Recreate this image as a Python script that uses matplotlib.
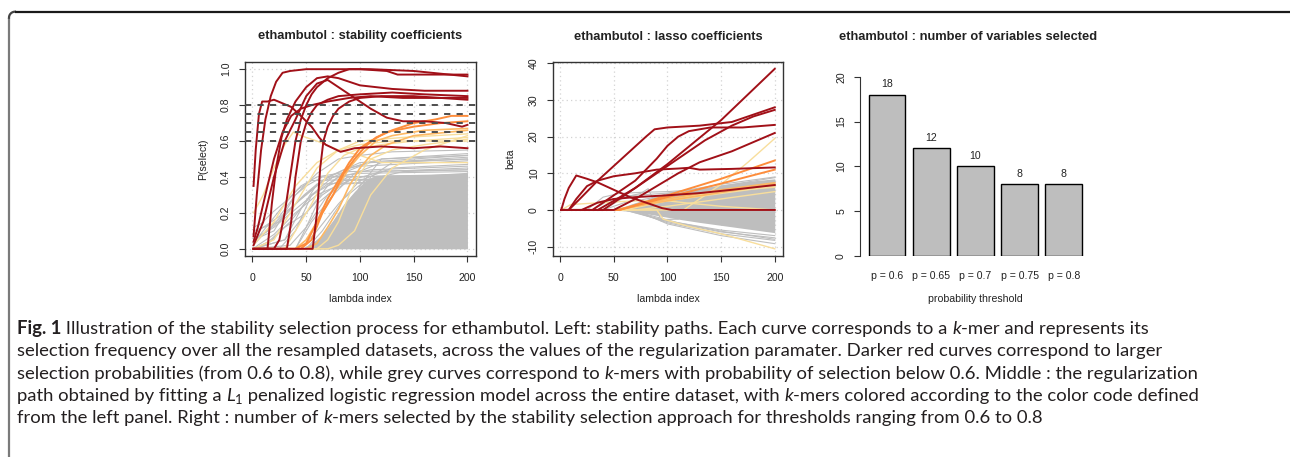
import numpy as np
import matplotlib
matplotlib.use("Agg")
import matplotlib.pyplot as plt

# ---------------- DATA ----------------
# Panel 1: stability paths (keypoints: lambda index, P(select))
stab_red_x = [
    [1, 3, 6, 9, 14, 20, 28, 36, 45, 55, 62, 68, 75, 82, 95, 120, 150, 175, 200],
    [1, 4, 8, 12, 17, 22, 28, 35, 50, 80, 100, 125, 135, 200],
    [1, 10, 20, 30, 40, 50, 60, 70, 80, 90, 100, 110, 125, 140, 160, 180, 195, 200],
    [1, 32, 36, 40, 45, 50, 55, 60, 70, 80, 100, 130, 160, 200],
    [1, 14, 18, 22, 27, 32, 40, 50, 60, 70, 80, 100, 130, 160, 200],
    [1, 5, 12, 20, 28, 36, 45, 55, 70, 90, 110, 140, 170, 200],
    [1, 20, 25, 30, 35, 40, 45, 50, 55, 60, 70, 80, 90, 100, 110, 150, 200],
    [1, 56, 60, 63, 66, 70, 75, 80, 90, 100, 120, 150, 200],
]
stab_red_y = [
    [0.35, 0.55, 0.75, 0.82, 0.82, 0.83, 0.81, 0.79, 0.74, 0.68, 0.62, 0.58, 0.56, 0.54, 0.56, 0.57, 0.56, 0.57, 0.56],
    [0.07, 0.30, 0.55, 0.72, 0.85, 0.93, 0.98, 0.99, 1.00, 1.00, 1.00, 0.99, 0.97, 0.97],
    [0.02, 0.15, 0.40, 0.60, 0.72, 0.85, 0.92, 0.94, 0.90, 0.86, 0.82, 0.78, 0.73, 0.71, 0.71, 0.70, 0.68, 0.69],
    [0.00, 0.00, 0.15, 0.40, 0.60, 0.70, 0.76, 0.80, 0.83, 0.85, 0.86, 0.87, 0.86, 0.85],
    [0.00, 0.00, 0.25, 0.45, 0.62, 0.72, 0.82, 0.90, 0.95, 0.96, 0.95, 0.91, 0.89, 0.88, 0.88],
    [0.04, 0.12, 0.30, 0.50, 0.65, 0.74, 0.78, 0.80, 0.82, 0.84, 0.85, 0.84, 0.84, 0.84],
    [0.00, 0.00, 0.05, 0.20, 0.40, 0.60, 0.72, 0.80, 0.86, 0.90, 0.95, 0.98, 1.00, 1.00, 1.00, 0.99, 0.96],
    [0.00, 0.00, 0.20, 0.45, 0.60, 0.68, 0.74, 0.78, 0.82, 0.84, 0.85, 0.85, 0.83],
]
stab_orange_x = [
    [1, 45, 55, 65, 75, 85, 95, 105, 115, 130, 150, 170, 185, 200],
    [1, 40, 50, 60, 70, 80, 90, 100, 110, 125, 150, 175, 200],
]
stab_orange_y = [
    [0.00, 0.00, 0.05, 0.20, 0.30, 0.42, 0.50, 0.57, 0.62, 0.66, 0.70, 0.72, 0.74, 0.74],
    [0.00, 0.00, 0.03, 0.15, 0.28, 0.38, 0.48, 0.56, 0.60, 0.65, 0.68, 0.70, 0.71],
]
stab_lorange_x = [
    [1, 40, 50, 60, 70, 80, 90, 100, 115, 130, 160, 200],
    [1, 50, 60, 70, 80, 90, 100, 110, 125, 150, 200],
]
stab_lorange_y = [
    [0.00, 0.00, 0.05, 0.15, 0.25, 0.35, 0.45, 0.52, 0.60, 0.63, 0.66, 0.67],
    [0.00, 0.00, 0.03, 0.12, 0.22, 0.35, 0.45, 0.52, 0.58, 0.63, 0.66],
]
stab_yellow_x = [
    [1, 10, 20, 30, 38, 45, 60, 80, 100, 120, 200],
    [1, 30, 40, 55, 70, 85, 100, 120, 150, 200],
    [1, 60, 70, 80, 90, 100, 110, 130, 160, 200],
    [1, 20, 30, 45, 60, 80, 100, 130, 170, 200],
    [1, 70, 80, 95, 110, 130, 160, 200],
    [1, 5, 20, 40, 60, 80, 100, 140, 200],
]
stab_yellow_y = [
    [0.20, 0.30, 0.45, 0.58, 0.65, 0.63, 0.60, 0.55, 0.52, 0.48, 0.48],
    [0.00, 0.00, 0.10, 0.25, 0.42, 0.52, 0.56, 0.58, 0.60, 0.62],
    [0.00, 0.00, 0.05, 0.15, 0.30, 0.42, 0.50, 0.55, 0.58, 0.61],
    [0.00, 0.05, 0.15, 0.30, 0.45, 0.55, 0.58, 0.60, 0.60, 0.60],
    [0.00, 0.00, 0.02, 0.10, 0.30, 0.45, 0.55, 0.63],
    [0.02, 0.05, 0.15, 0.35, 0.48, 0.55, 0.60, 0.62, 0.64],
]
stab_grey_x = [
    [1, 20, 40, 60, 80, 100, 130, 200],
    [1, 30, 50, 70, 90, 120, 200],
    [1, 10, 30, 50, 70, 100, 200],
    [1, 40, 55, 75, 95, 120, 200],
    [1, 25, 45, 65, 85, 110, 200],
    [1, 15, 35, 55, 75, 100, 200],
    [1, 45, 60, 80, 100, 130, 200],
    [1, 20, 40, 60, 80, 110, 200],
    [1, 35, 50, 70, 90, 120, 200],
    [1, 50, 65, 85, 105, 140, 200],
    [1, 10, 30, 45, 60, 90, 200],
    [1, 30, 45, 60, 75, 100, 200],
    [1, 5, 20, 40, 60, 90, 200],
    [1, 25, 40, 55, 70, 90, 200],
    [1, 10, 25, 40, 50, 65, 200],
    [1, 40, 50, 60, 70, 85, 200],
    [1, 15, 30, 50, 65, 80, 200],
    [1, 70, 85, 100, 120, 200],
    [1, 80, 95, 110, 130, 200],
    [1, 8, 18, 30, 42, 55, 200],
    [1, 12, 22, 35, 48, 60, 200],
]
stab_grey_y = [
    [0.05, 0.10, 0.30, 0.42, 0.50, 0.52, 0.54, 0.55],
    [0.00, 0.05, 0.20, 0.35, 0.45, 0.50, 0.53],
    [0.02, 0.08, 0.20, 0.30, 0.40, 0.48, 0.52],
    [0.00, 0.00, 0.15, 0.30, 0.42, 0.48, 0.51],
    [0.10, 0.15, 0.28, 0.38, 0.44, 0.48, 0.50],
    [0.00, 0.04, 0.15, 0.30, 0.40, 0.46, 0.49],
    [0.00, 0.00, 0.10, 0.25, 0.38, 0.45, 0.47],
    [0.05, 0.12, 0.22, 0.32, 0.40, 0.44, 0.46],
    [0.00, 0.02, 0.12, 0.30, 0.38, 0.43, 0.45],
    [0.00, 0.00, 0.10, 0.28, 0.38, 0.43, 0.44],
    [0.03, 0.10, 0.25, 0.35, 0.40, 0.43, 0.44],
    [0.00, 0.05, 0.22, 0.36, 0.40, 0.42, 0.43],
    [0.00, 0.02, 0.08, 0.20, 0.30, 0.38, 0.42],
    [0.00, 0.00, 0.10, 0.30, 0.35, 0.40, 0.41],
    [0.08, 0.12, 0.18, 0.30, 0.35, 0.40, 0.41],
    [0.00, 0.00, 0.12, 0.25, 0.30, 0.38, 0.40],
    [0.00, 0.03, 0.12, 0.20, 0.30, 0.36, 0.39],
    [0.00, 0.00, 0.15, 0.35, 0.50, 0.52],
    [0.00, 0.00, 0.20, 0.40, 0.48, 0.50],
    [0.12, 0.14, 0.20, 0.26, 0.33, 0.38, 0.40],
    [0.06, 0.09, 0.14, 0.22, 0.30, 0.36, 0.39],
]
stab_mass_x = [45, 55, 65, 75, 85, 95, 105, 115, 200]
stab_mass_top = [0.00, 0.03, 0.08, 0.16, 0.25, 0.32, 0.38, 0.41, 0.42]
thresholds = [0.6, 0.65, 0.7, 0.75, 0.8]

# Panel 2: lasso paths (keypoints: lambda index, beta)
lasso_red_x = [
    [1, 35, 50, 70, 100, 125, 150, 175, 200],
    [1, 8, 20, 35, 50, 65, 80, 88, 100, 130, 160, 185, 200],
    [1, 40, 55, 70, 90, 100, 115, 135, 160, 180, 200],
    [1, 30, 50, 70, 90, 100, 110, 120, 140, 170, 200],
    [1, 50, 70, 90, 110, 130, 160, 200],
    [1, 8, 15, 25, 35, 50, 70, 90, 110, 120, 130, 160, 200],
    [1, 20, 35, 50, 70, 100, 130, 160, 200],
    [1, 4, 8, 15, 25, 35, 50, 65, 80, 95, 104, 200],
]
lasso_red_y = [
    [0, 0, 2.5, 6, 12.5, 18.5, 24.5, 31.5, 38.5],
    [0, 0, 3.5, 8, 12, 16, 20, 22, 22.5, 23, 24, 26.5, 28],
    [0, 0, 3, 6, 10, 12, 15, 19, 23, 25.5, 27.3],
    [0, 0, 4, 8, 14, 17.5, 20, 21.5, 22.5, 22.5, 23.2],
    [0, 0, 3, 6.5, 10, 13, 16, 21],
    [0, 0, 3, 6.5, 8, 9.2, 10, 11, 11.3, 11.5, 11, 11.2, 11.6],
    [0, 0, 2, 3, 3.5, 4, 4.6, 5.5, 6.8],
    [0, 3, 6, 9.4, 8.5, 7.5, 5.5, 3.5, 2, 0.5, 0, 0],
]
lasso_orange_x = [[1, 55, 100, 150, 200], [1, 55, 100, 150, 200]]
lasso_orange_y = [[0, 0, 4, 8.5, 13.5], [0, 0, 3.5, 7.2, 11]]
lasso_lorange_x = [[1, 55, 100, 150, 200], [1, 50, 100, 150, 200]]
lasso_lorange_y = [[0, 0, 3, 5.5, 7.4], [0, 0, 2.5, 4.8, 7.0]]
lasso_yellow_x = [
    [1, 115, 130, 150, 175, 200],
    [1, 90, 96, 120, 150, 200],
    [1, 10, 40, 70, 100, 115, 150, 200],
    [1, 50, 100, 150, 200],
    [1, 60, 100, 150, 200],
    [1, 70, 100, 150, 200],
]
lasso_yellow_y = [
    [0, 0, 3, 7, 13, 19.5],
    [0, 0, -2.5, -4.5, -6.5, -10.6],
    [0, 1.5, 2, 2.5, 2.5, 2, 1, 0],
    [0, 0, 3, 5, 6.2],
    [0, 0, 2.5, 4.5, 6.5],
    [0, 0, 1, 3, 5],
]
lasso_grey_x = [
    [1, 55, 100, 150, 200],
    [1, 60, 100, 150, 200],
    [1, 60, 100, 150, 200],
    [1, 65, 100, 150, 200],
    [1, 70, 100, 150, 200],
    [1, 65, 110, 150, 200],
    [1, 40, 60, 75, 82, 88, 94, 98, 110],
    [1, 25, 40, 55, 75, 100, 150, 200],
    [1, 40, 60, 80, 100, 150, 200],
    [1, 30, 45, 60, 80, 100, 150, 200],
]
lasso_grey_y = [
    [0, 0, 4.5, 7, 9],
    [0, 0, -3, -5.5, -7],
    [0, 0, -3.2, -6, -7.6],
    [0, 0, -3.5, -6.5, -8.3],
    [0, 0, -3.8, -7, -9.2],
    [0, 0, -3.5, -5.8, -8],
    [0, 0, 3.5, 4.5, 5.8, 2, -3, -2.6, -2.5],
    [0, 0, 3.5, 4.5, 4.8, 5, 6, 7.5],
    [0, 0, 2, 3, 4, 6.5, 8.8],
    [0, 0, 2.5, 3.8, 4.2, 4.6, 6.2, 8.0],
]
lasso_mass_x = [50, 70, 90, 110, 130, 150, 175, 200]
lasso_mass_top = [0, 2, 3.6, 4.8, 5.8, 6.8, 7.8, 8.5]
lasso_mass_bot = [0, -0.5, -1.5, -2.5, -3.4, -4.2, -5.2, -6.2]

# Panel 3: number of variables selected
bar_labels = ["p = 0.6", "p = 0.65", "p = 0.7", "p = 0.75", "p = 0.8"]
bar_values = [18, 12, 10, 8, 8]

# ---------------- STYLE ----------------
W, H = 1292, 457
C_RED = "#A11018"
C_ORANGE = "#FD8D3C"
C_LORANGE = "#FDB863"
C_YELLOW = "#F8DE9C"
C_GREY = "#BEBEBE"
TXT = "#222222"
TICK_FS = 7.6
TITLE_FS = 9.3
plt.rcParams["font.family"] = ["Liberation Sans", "DejaVu Sans"]

fig = plt.figure(figsize=(W / 100, H / 100), dpi=100)
bg = fig.add_axes([0, 0, 1, 1])
bg.set_xlim(0, W)
bg.set_ylim(H, 0)
bg.axis("off")

# page frame (rounded corner top-left)
t = np.linspace(0, np.pi / 2, 12)
r = 6
cx, cy = 9 + r, 11.7 + r
arc_x = cx - r * np.cos(t)
arc_y = cy - r * np.sin(t)
bg.plot([9, 9], [H, cy], color="#7a7a7a", lw=1.6, solid_capstyle="butt")
bg.plot(arc_x, arc_y, color="#444444", lw=1.6)
bg.plot([cx, 1290], [11.7, 11.7], color="#1a1a1a", lw=1.6, solid_capstyle="butt")


def axes_px(left, top, right, bottom):
    return fig.add_axes([left / W, 1 - bottom / H, (right - left) / W, (bottom - top) / H])


def style_box(ax, xt, yt, ytl):
    for s in ax.spines.values():
        s.set_color("#333333")
        s.set_linewidth(1.0)
    ax.set_xticks(xt)
    ax.set_xticklabels([str(v) for v in xt])
    ax.set_yticks(yt)
    ax.set_yticklabels(ytl)
    ax.tick_params(length=4.5, width=0.8, color="#333333", labelsize=TICK_FS,
                   labelcolor=TXT)
    ax.tick_params(axis="x", pad=7.5)
    ax.tick_params(axis="y", pad=5.5)
    for lab in ax.get_yticklabels():
        lab.set_rotation(90)
        lab.set_va("center")
    for v in xt:
        ax.axvline(v, color="#D3D3D3", ls=(0, (1, 2.5)), lw=0.9, zorder=0)
    for v in yt:
        ax.axhline(v, color="#D3D3D3", ls=(0, (1, 2.5)), lw=0.9, zorder=0)


# ---- Panel 1 ----
ax1 = axes_px(245, 62, 476, 256)
ax1.set_xlim(1 - 7.96, 200 + 7.96)
ax1.set_ylim(-0.04, 1.04)
style_box(ax1, [0, 50, 100, 150, 200], [0, 0.2, 0.4, 0.6, 0.8, 1.0],
          ["0.0", "0.2", "0.4", "0.6", "0.8", "1.0"])
ax1.fill_between(stab_mass_x, 0, stab_mass_top, color=C_GREY, lw=0, zorder=1)
for xs, ys in zip(stab_grey_x, stab_grey_y):
    ax1.plot(xs, ys, color=C_GREY, lw=0.8, zorder=1)
for xs, ys in zip(stab_yellow_x, stab_yellow_y):
    ax1.plot(xs, ys, color=C_YELLOW, lw=1.0, zorder=2)
for xs, ys in zip(stab_lorange_x, stab_lorange_y):
    ax1.plot(xs, ys, color=C_LORANGE, lw=1.2, zorder=3)
for xs, ys in zip(stab_orange_x, stab_orange_y):
    ax1.plot(xs, ys, color=C_ORANGE, lw=1.4, zorder=4)
for xs, ys in zip(stab_red_x, stab_red_y):
    ax1.plot(xs, ys, color=C_RED, lw=1.4, zorder=5)
for th in thresholds:
    ax1.axhline(th, color="#4d4d4d", lw=1.4, ls=(0, (3.2, 3.2)), zorder=6)
fig.text(360.5 / W, 1 - 36.5 / H, "ethambutol : stability coefficients",
         ha="center", va="center", fontsize=TITLE_FS, fontweight="bold", color=TXT)
bg.text(360.5, 299, "lambda index", ha="center", va="center", fontsize=TICK_FS, color=TXT)
bg.text(203, 159, "P(select)", ha="center", va="center", fontsize=TICK_FS, color=TXT, rotation=90)

# ---- Panel 2 ----
ax2 = axes_px(552.7, 62, 783.3, 256)
ax2.set_xlim(1 - 7.96, 200 + 7.96)
ax2.set_ylim(-12.56, 40.36)
style_box(ax2, [0, 50, 100, 150, 200], [-10, 0, 10, 20, 30, 40],
          ["-10", "0", "10", "20", "30", "40"])
ax2.fill_between(lasso_mass_x, lasso_mass_bot, lasso_mass_top, color=C_GREY, lw=0, zorder=1)
for xs, ys in zip(lasso_grey_x, lasso_grey_y):
    ax2.plot(xs, ys, color=C_GREY, lw=0.8, zorder=1)
for xs, ys in zip(lasso_yellow_x, lasso_yellow_y):
    ax2.plot(xs, ys, color=C_YELLOW, lw=1.0, zorder=2)
for xs, ys in zip(lasso_lorange_x, lasso_lorange_y):
    ax2.plot(xs, ys, color=C_LORANGE, lw=1.2, zorder=3)
for xs, ys in zip(lasso_orange_x, lasso_orange_y):
    ax2.plot(xs, ys, color=C_ORANGE, lw=1.4, zorder=4)
for xs, ys in zip(lasso_red_x, lasso_red_y):
    ax2.plot(xs, ys, color=C_RED, lw=1.4, zorder=5)
fig.text(668 / W, 1 - 36.5 / H, "ethambutol : lasso coefficients",
         ha="center", va="center", fontsize=TITLE_FS, fontweight="bold", color=TXT)
bg.text(668, 299, "lambda index", ha="center", va="center", fontsize=TICK_FS, color=TXT)
bg.text(510, 159, "beta", ha="center", va="center", fontsize=TICK_FS, color=TXT, rotation=90)

# ---- Panel 3 ----
ax3 = axes_px(860, 62, 1091, 256)
pxu = 36.83
ax3.set_xlim(0.7 - 27 / pxu, 0.7 + (1091 - 887) / pxu)
ax3.set_ylim(0, 20 * 194 / 179.3)
pos = [0.7 + 1.2 * i for i in range(len(bar_values))]
ax3.bar(pos, bar_values, width=1.0, color=C_GREY, edgecolor="black", lw=1.0)
for p_, v in zip(pos, bar_values):
    ax3.text(p_, v + 1.17, str(v), ha="center", va="center", fontsize=TICK_FS, color=TXT)
for k in ["top", "right", "bottom"]:
    ax3.spines[k].set_visible(False)
ax3.spines["left"].set_bounds(0, 20)
ax3.spines["left"].set_color("#333333")
ax3.set_yticks([0, 5, 10, 15, 20])
ax3.set_yticklabels(["0", "5", "10", "15", "20"])
ax3.set_xticks(pos)
ax3.set_xticklabels(bar_labels)
ax3.tick_params(axis="y", length=4.5, width=0.8, color="#333333", labelsize=TICK_FS,
                labelcolor=TXT, pad=5.5)
ax3.tick_params(axis="x", length=0, labelsize=TICK_FS, labelcolor=TXT, pad=11)
for lab in ax3.get_yticklabels():
    lab.set_rotation(90)
    lab.set_va("center")
fig.text(968.5 / W, 1 - 36.5 / H, "ethambutol : number of variables selected",
         ha="center", va="center", fontsize=TITLE_FS, fontweight="bold", color=TXT)
bg.text(975, 299, "probability threshold", ha="center", va="center", fontsize=TICK_FS, color=TXT)

# ---- Caption ----
CAP = "#231F20"
CAP_FONT = "Lato"
cap_lines = [
    [("Fig. 1", "bold"), (" Illustration of the stability selection process for ethambutol. Left: stability paths. Each curve corresponds to a ", "n"), ("k", "i"), ("-mer and represents its", "n")],
    [("selection frequency over all the resampled datasets, across the values of the regularization paramater. Darker red curves correspond to larger", "n")],
    [("selection probabilities (from 0.6 to 0.8), while grey curves correspond to ", "n"), ("k", "i"), ("-mers with probability of selection below 0.6. Middle : the regularization", "n")],
    [("path obtained by fitting a ", "n"), ("L", "i"), ("1", "sub"), (" penalized logistic regression model across the entire dataset, with ", "n"), ("k", "i"), ("-mers colored according to the color code defined", "n")],
    [("from the left panel. Right : number of ", "n"), ("k", "i"), ("-mers selected by the stability selection approach for thresholds ranging from 0.6 to 0.8", "n")],
]
renderer = fig.canvas.get_renderer()
probe = bg.text(0, 0, cap_lines[1][0][0], fontsize=10, family=CAP_FONT)
wprobe = probe.get_window_extent(renderer).width
probe.remove()
cap_fs = 10 * (1161 - 17) / wprobe
baselines = [334, 356.3, 378.6, 400.9, 423.2]
for line, yb in zip(cap_lines, baselines):
    x = 17.0
    for s, st in line:
        kw = dict(fontsize=cap_fs, family=CAP_FONT, color=CAP, va="baseline", ha="left")
        yy = yb
        if st == "bold":
            kw["fontweight"] = "bold"
        elif st == "i":
            kw["style"] = "italic"
        elif st == "sub":
            kw["fontsize"] = cap_fs * 0.7
            yy = yb + 3
        tt = bg.text(x, yy, s, **kw)
        x += tt.get_window_extent(renderer).width

fig.savefig("out.png", dpi=100)
